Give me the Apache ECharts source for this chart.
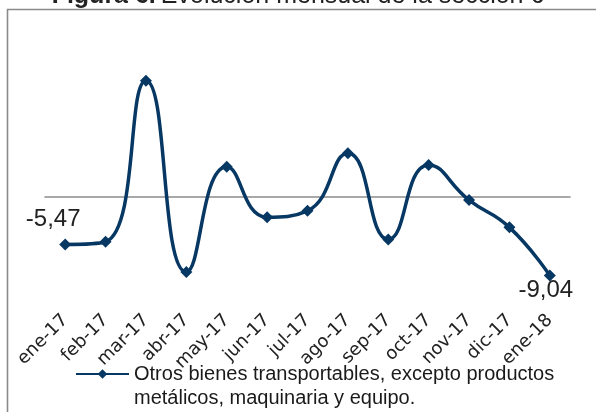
<!DOCTYPE html>
<html>
<head>
<meta charset="utf-8">
<script src="https://cdn.jsdelivr.net/npm/echarts@6/dist/echarts.min.js"></script>
<style>
  html, body { margin: 0; padding: 0; background: #fff; }
  #main { width: 596px; height: 412px; }
</style>
</head>
<body>
<div id="main"></div>
<script>
var chart = {};

// datos
var meses = ['ene-17', 'feb-17', 'mar-17', 'abr-17', 'may-17', 'jun-17', 'jul-17',
	'ago-17', 'sep-17', 'oct-17', 'nov-17', 'dic-17', 'ene-18'];
var variacion = [-5.47, -5.16, 13.30, -8.64, 3.44, -2.36, -1.61, 4.98, -4.89, 3.64, -0.38, -3.51, -9.04];
var serieNombre = 'Otros bienes transportables, excepto productos\nmetálicos, maquinaria y equipo.';

chartInit();

function fmtComa(v) {
	return String(v).replace('.', ',');
}

function chartInit() {
	var dom = document.getElementById('main');
	chart = echarts.init(dom);
	var lineColor = '#073763';

	// solo el primer y ultimo punto llevan etiqueta
	var datos = variacion.map(function (v, i) {
		if (i === 0) {
			return { value: v, label: { show: true, position: 'top', offset: [-12, -2] } };
		}
		if (i === variacion.length - 1) {
			return { value: v, label: { show: true, position: 'bottom', offset: [-4, -8] } };
		}
		return v;
	});

	var option = {
		backgroundColor: '#fff',
		animation: false,
		title: {
			text: '{b|Figura 6.} {n|Evolución mensual de la sección 6}',
			left: 'center',
			top: -21,
			textStyle: {
				fontWeight: 'normal',
				rich: {
					b: { fontFamily: 'Liberation Sans', fontSize: 25, fontWeight: 'bold', color: '#222' },
					n: { fontFamily: 'Liberation Sans', fontSize: 25, fontWeight: 'normal', color: '#222' }
				}
			}
		},
		graphic: [{
			type: 'rect',
			shape: { x: 7.5, y: 9.5, width: 700, height: 500 },
			style: { fill: 'none', stroke: '#8a8a8a', lineWidth: 1.6 },
			silent: true,
			z: -1
		}],
		grid: {
			left: 45,
			right: 26,
			top: 57.2,
			bottom: 110.6
		},
		legend: {
			left: 70,
			top: 333,
			itemWidth: 53,
			itemHeight: 12,
			data: [serieNombre],
			// linea vacia delante para que el icono quede a la altura de la primera linea
			formatter: function (name) { return ' \n' + name; },
			textStyle: {
				fontFamily: 'Liberation Sans',
				fontSize: 20,
				color: '#1a1a1a',
				lineHeight: 24
			}
		},
		xAxis: [
			{
				// linea del cero
				type: 'category',
				data: meses,
				axisLine: { onZero: true, lineStyle: { color: '#8c8c8c', width: 1.6 } },
				axisTick: { show: false },
				axisLabel: { show: false },
				splitLine: { show: false }
			},
			{
				// etiquetas abajo
				type: 'category',
				data: meses,
				position: 'bottom',
				axisLine: { show: false, onZero: false },
				axisTick: { show: false },
				axisLabel: {
					rotate: 45,
					margin: 16,
					fontFamily: 'DejaVu Sans',
					fontSize: 18,
					color: '#222'
				},
				splitLine: { show: false }
			}
		],
		yAxis: {
			type: 'value',
			min: -12,
			max: 16,
			show: false
		},
		series: [{
			name: serieNombre,
			type: 'line',
			xAxisIndex: 0,
			data: datos,
			smooth: 0.5,
			symbol: 'diamond',
			symbolSize: 12,
			itemStyle: { color: lineColor },
			lineStyle: { color: lineColor, width: 3.5 },
			label: {
				show: false,
				fontFamily: 'Liberation Sans',
				fontSize: 24,
				color: '#222',
				formatter: function (p) { return fmtComa(p.value); }
			}
		}]
	};
	chart.setOption(option);
}
</script>
</body>
</html>
